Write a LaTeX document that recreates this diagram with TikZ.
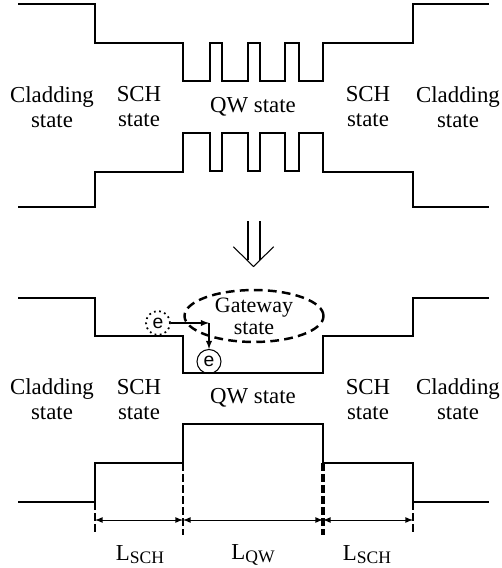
\documentclass[tikz,border=0pt]{standalone}
\usepackage{fontspec}
\setmainfont{Liberation Serif}
\newfontfamily\esans{Liberation Sans}
\usetikzlibrary{shapes.geometric}
\tikzset{
  lbl/.style={align=center,font=\fontsize{13}{14.2}\selectfont},
  elec/.style={circle,draw,inner sep=0pt,minimum size=0.48cm,font=\esans\fontsize{11}{11}\selectfont},
  bound/.style={dash pattern=on 4.5pt off 1.8pt}
}
\newcommand{\Lsub}[1]{L\raisebox{-0.3ex}{\fontsize{10}{10}\selectfont #1}}
\begin{document}
\begin{tikzpicture}[x=0.02cm,y=-0.02cm,line width=.6pt,>=latex]
\useasboundingbox (0,0) rectangle (502,568);
\draw (18,4)-|(95,43)-|(183,81)-|(210,43)-|(222,81)-|(248,43)-|(260,81)-|(285,43)-|(299,81)-|(323,43)-|(413,4)--(489,4);
\draw (18,207)-|(95,172)-|(183,133)-|(210,171)-|(222,133)-|(248,171)-|(260,133)-|(285,171)-|(299,133)-|(323,172)-|(413,207)--(489,207);
\node[lbl] (clL) at (52,107) {Cladding\\state}; \node[lbl] (schL) at (139,107) {SCH\\state};
\node[lbl] (qw) at (253,107) {QW state};
\node[lbl] (schR) at (368,107) {SCH\\state}; \node[lbl] (clR) at (458,107) {Cladding\\state};
\draw (248,221)--(248,260) (260,221)--(260,260); \draw (233.3,246.7)--(253.5,266.5)--(273.7,246.7);
\draw (18,298)-|(95,336)-|(183,373)-|(323,336)-|(413,298)--(489,298);
\node[ellipse,draw,dashed,line width=1.4pt,dash pattern=on 5pt off 3pt,minimum width=2.78cm,minimum height=1.02cm,inner sep=0pt,align=center,font=\fontsize{12.5}{12.5}\selectfont] (gw) at (254,316) {Gateway\\state};
\node[elec,dotted,line width=1pt] (eout) at (158,323) {e};
\node[elec] (ein) at (209,361.5) {e};
\coordinate (turn) at (eout.east -| ein);
\draw[->] (eout) -- (turn); \draw[->] (turn) -- (ein);
\node[lbl] (clL2) at (52,399.5) {Cladding\\state}; \node[lbl] (schL2) at (139,399.5) {SCH\\state};
\node[lbl] (qw2) at (253,398) {QW state};
\node[lbl] (schR2) at (368,399.5) {SCH\\state}; \node[lbl] (clR2) at (458,399.5) {Cladding\\state};
\draw (18,502)-|(95,463)-|(183,424)-|(323,463)-|(413,502)--(489,502);
\coordinate (b1) at (95,520); \coordinate (b2) at (183,520); \coordinate (b3) at (323,520); \coordinate (b4) at (413,520);
\draw[bound,line width=1.2pt] (95,502)--(95,535) (413,502)--(413,535);
\draw[bound,line width=1.2pt] (183,463)--(183,535); \draw[bound,line width=1.8pt] (323,463)--(323,535);
\draw[<->,line width=.5pt] (b1)--(b2); \draw[<->,line width=.5pt] (b2)--(b3); \draw[<->,line width=.5pt] (b3)--(b4);
\node[lbl] (lsch1) at (140,555) {\Lsub{SCH}}; \node[lbl] (lqw) at (253,555) {\Lsub{QW}};
\node[lbl] (lsch2) at (367,555) {\Lsub{SCH}};
\end{tikzpicture}
\end{document}
